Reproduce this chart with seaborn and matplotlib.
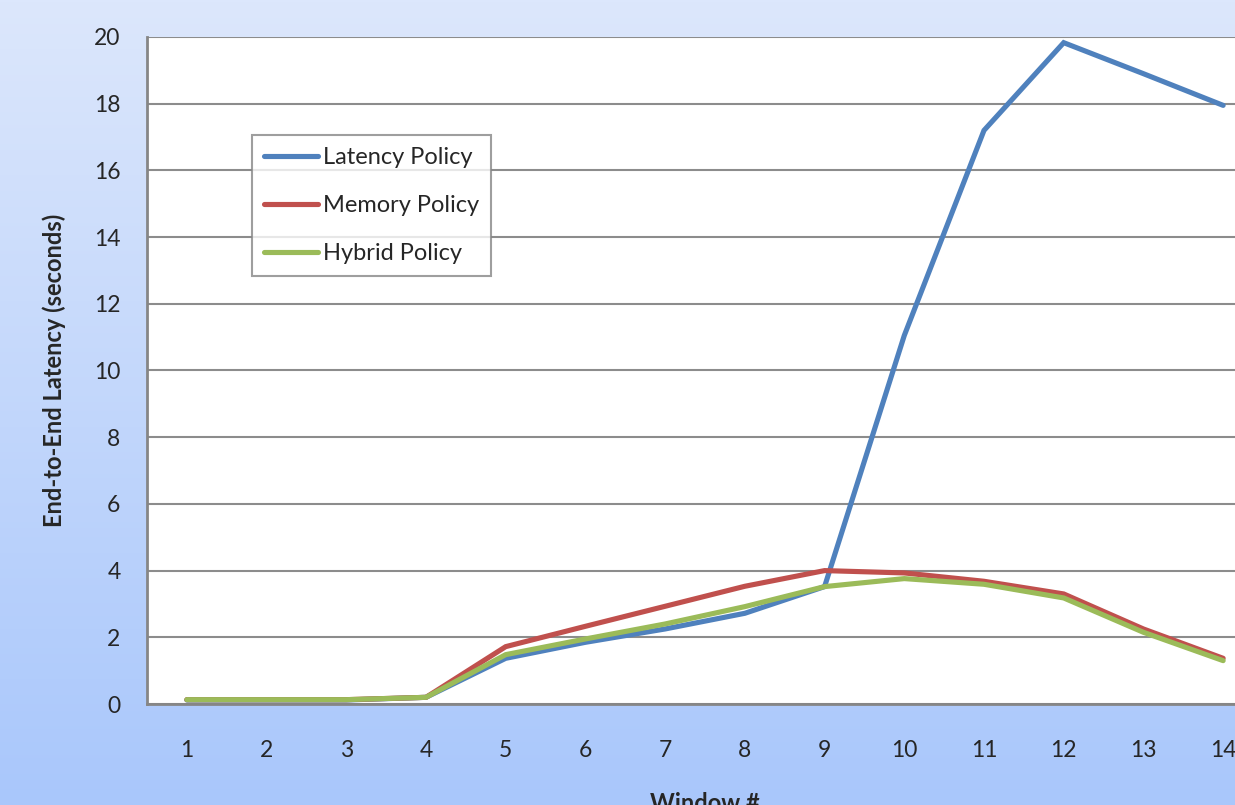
import matplotlib
matplotlib.use('Agg')
import matplotlib.pyplot as plt
from matplotlib.colors import LinearSegmentedColormap
import seaborn as sns
import pandas as pd
import numpy as np

# values
windows = list(range(1, 15))
latency_policy = [0.12, 0.12, 0.12, 0.2, 1.37, 1.85, 2.25, 2.72, 3.52, 11.05, 17.2, 19.83, 18.9, 17.95]
memory_policy = [0.13, 0.13, 0.13, 0.2, 1.72, 2.33, 2.93, 3.53, 4.0, 3.93, 3.68, 3.3, 2.25, 1.37]
hybrid_policy = [0.13, 0.13, 0.13, 0.2, 1.48, 1.95, 2.4, 2.92, 3.52, 3.76, 3.59, 3.18, 2.15, 1.3]
series_names = ['Latency Policy', 'Memory Policy', 'Hybrid Policy']
colors = ['#4F81BD', '#C0504D', '#9BBB59']

df = pd.DataFrame({
    'Window #': windows * 3,
    'latency': latency_policy + memory_policy + hybrid_policy,
    'policy': [n for n in series_names for _ in windows],
})

sns.set_style('white')
plt.rcParams['font.family'] = ['Lato', 'DejaVu Sans']

W, H = 1235, 805
fig = plt.figure(figsize=(W / 100, H / 100), dpi=100)

# gradient background
bg = fig.add_axes([0, 0, 1, 1], zorder=-10)
grad = LinearSegmentedColormap.from_list('bg', ['#DCE7FC', '#A9C7FB'])
bg.imshow(np.linspace(0, 1, 256).reshape(-1, 1), aspect='auto', cmap=grad, extent=[0, 1, 0, 1])
bg.set_axis_off()

# plot area (extends past the right edge like the original)
left, right, top, bottom = 147, 1263, 37, 704
ax = fig.add_axes([left / W, (H - bottom) / H, (right - left) / W, (bottom - top) / H])
ax.set_facecolor('white')

sns.lineplot(data=df, x='Window #', y='latency', hue='policy', hue_order=series_names,
             palette=colors, linewidth=3.7, ax=ax, legend=False,
             solid_capstyle='round', solid_joinstyle='miter')

ax.set_xlim(0.5, 14.5)
ax.set_ylim(0, 20)
ax.set_yticks(np.arange(0, 21, 2))
ax.set_xticks(windows)
ax.set_xticks(np.arange(0.5, 15, 1), minor=True)
ax.tick_params(axis='x', which='major', length=0, pad=26, labelsize=16.5)
ax.tick_params(axis='x', which='minor', length=7, width=1.5, color='#868686', direction='out')
ax.tick_params(axis='y', length=9, width=1.5, color='#868686', direction='out', pad=10, labelsize=16.5)
ax.yaxis.grid(True, color='#8C8C8C', linewidth=1.5)
ax.set_axisbelow(True)

for s in ['top', 'right']:
    ax.spines[s].set_visible(False)
for s in ['left', 'bottom']:
    ax.spines[s].set_color('#868686')
    ax.spines[s].set_linewidth(2)

ax.set_xlabel('Window #', fontsize=17, fontweight='bold', labelpad=22)
ax.set_ylabel('End-to-End Latency (seconds)', fontsize=17, fontweight='bold', labelpad=20)

handles = [plt.Line2D([], [], color=c, linewidth=3.7) for c in colors]
leg = ax.legend(handles, series_names, loc='upper left', bbox_to_anchor=(0.094, 0.853),
                borderaxespad=0, fontsize=17, frameon=True, fancybox=False,
                handlelength=2.3, handletextpad=0.2, labelspacing=1.15,
                borderpad=0.5)
leg.get_frame().set_edgecolor('#868686')
leg.get_frame().set_linewidth(1.5)

fig.savefig('out.png', dpi=100)
